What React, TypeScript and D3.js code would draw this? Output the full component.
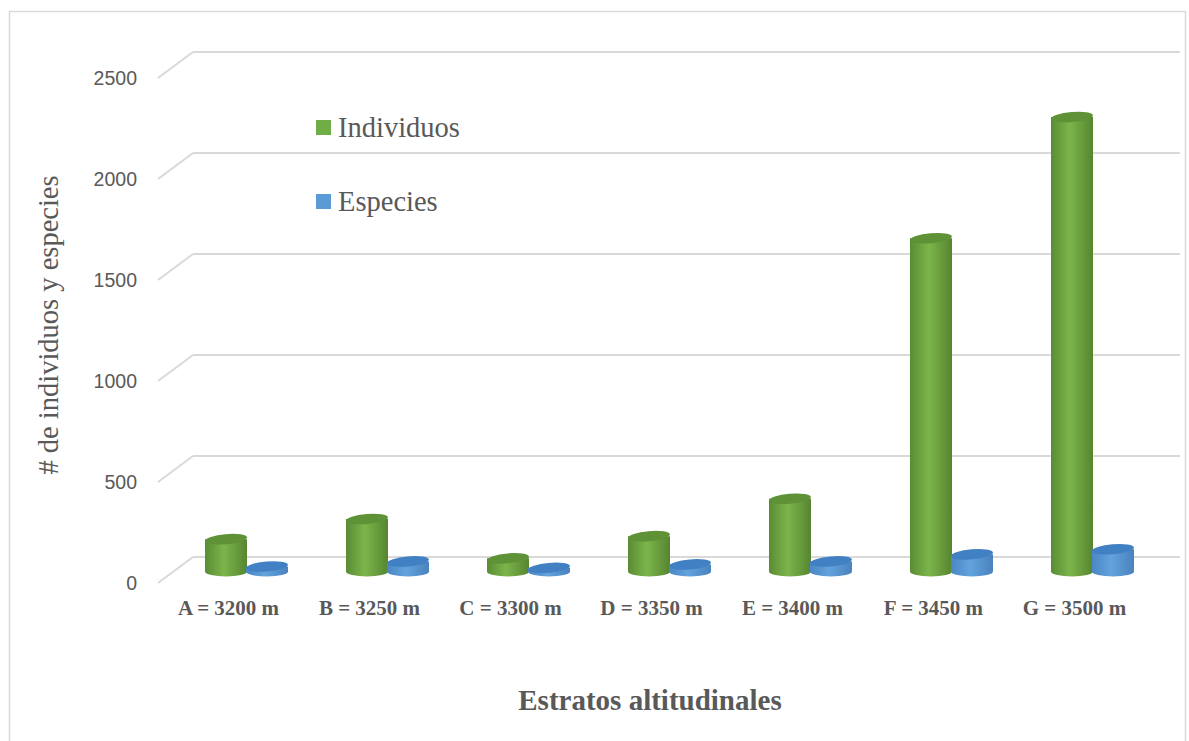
import React from "react";
import * as d3 from "d3";

// data
const categories = ["A = 3200 m", "B = 3250 m", "C = 3300 m", "D = 3350 m", "E = 3400 m", "F = 3450 m", "G = 3500 m"];
const individuos = [160, 260, 65, 175, 360, 1650, 2250];
const especies = [25, 50, 18, 35, 50, 85, 110];
const yTicks = [0, 500, 1000, 1500, 2000, 2500];
const seriesNames = ["Individuos", "Especies"];

const W = 1189;
const H = 741;
const depthX = 35; // back wall offset
const depthY = 26;

const x = d3.scaleBand<string>().domain(categories).range([158, 1145]).paddingInner(0).paddingOuter(0);
const y = d3.scaleLinear().domain([0, 2500]).range([583, 78]);

const textCol = "#595959";
const gridCol = "#d9d9d9";

const serif = "'Liberation Serif', 'Times New Roman', serif";
const sans = "'Liberation Sans', Arial, sans-serif";

type Cyl = { cx: number; value: number; id: string; top: string };

function Cylinder({ cx, value, id, top }: Cyl) {
  const rx = 21;
  const ry = 5;
  const base = y(0) - depthY / 2 + 1.5;
  const t = y(value) - depthY / 2 + 1.5;
  const l = cx - rx;
  const r = cx + rx;
  const body = `M${l},${t} L${l},${base} A${rx},${ry} 0 0 0 ${r},${base} L${r},${t} Z`;
  return (
    <g>
      <path d={body} fill={`url(#${id})`} />
      <ellipse cx={cx} cy={t} rx={rx} ry={ry} fill={top} transform={`rotate(-5 ${cx} ${t})`} />
    </g>
  );
}

export default function App() {
  const bw = 42;
  return (
    <div style={{ position: "absolute", left: 0, top: 0 }}>
      <svg width={W} height={H} style={{ display: "block", background: "#fff" }}>
        <defs>
          <linearGradient id="gGreen" x1="0" x2="1" y1="0" y2="0">
            <stop offset="0" stopColor="#5a8c34" />
            <stop offset="0.45" stopColor="#7cb54b" />
            <stop offset="1" stopColor="#568530" />
          </linearGradient>
          <linearGradient id="gBlue" x1="0" x2="1" y1="0" y2="0">
            <stop offset="0" stopColor="#4a86c4" />
            <stop offset="0.45" stopColor="#62a3dd" />
            <stop offset="1" stopColor="#4a82bd" />
          </linearGradient>
        </defs>
        <rect x={9.5} y={11.5} width={1176} height={760} fill="#fff" stroke={gridCol} strokeWidth={1.5} />

        {/* gridlines on back wall with left diagonal */}
        {yTicks.map((v) => (
          <g key={v}>
            <line x1={158 + depthX} x2={1145 + depthX} y1={y(v) - depthY} y2={y(v) - depthY} stroke={gridCol} strokeWidth={2} />
            <line x1={158} x2={158 + depthX} y1={y(v)} y2={y(v) - depthY} stroke={gridCol} strokeWidth={2} />
            <text x={137} y={y(v)} dy="0.35em" textAnchor="end" fontFamily={sans} fontSize={19.5} fill={textCol}>
              {v}
            </text>
          </g>
        ))}

        {/* cylinders */}
        {categories.map((c, i) => {
          const center = (x(c) as number) + x.bandwidth() / 2 + depthX / 2;
          return (
            <g key={c}>
              <Cylinder cx={center - bw / 2 + 1} value={individuos[i]} id="gGreen" top="#5f9136" />
              <Cylinder cx={center + bw / 2} value={especies[i]} id="gBlue" top="#4180c2" />
            </g>
          );
        })}

        {/* category labels */}
        {categories.map((c) => (
          <text key={c} x={(x(c) as number) + x.bandwidth() / 2} y={615} textAnchor="middle" fontFamily={serif} fontWeight="bold" fontSize={21} fill={textCol}>
            {c}
          </text>
        ))}

        {/* legend */}
        {seriesNames.map((s, i) => (
          <g key={s} transform={`translate(316, ${127 + i * 74})`}>
            <rect x={0} y={-7} width={15} height={15} fill={i === 0 ? "#70ad47" : "#5b9bd5"} />
            <text x={22} y={0} dy="0.35em" fontFamily={serif} fontSize={28.5} fill={textCol}>
              {s}
            </text>
          </g>
        ))}

        <text transform="translate(58, 325) rotate(-90)" textAnchor="middle" fontFamily={serif} fontSize={28.5} fill={textCol}>
          # de individuos y especies
        </text>
        <text x={650} y={710} textAnchor="middle" fontFamily={serif} fontWeight="bold" fontSize={29} fill={textCol}>
          Estratos altitudinales
        </text>
      </svg>
    </div>
  );
}
